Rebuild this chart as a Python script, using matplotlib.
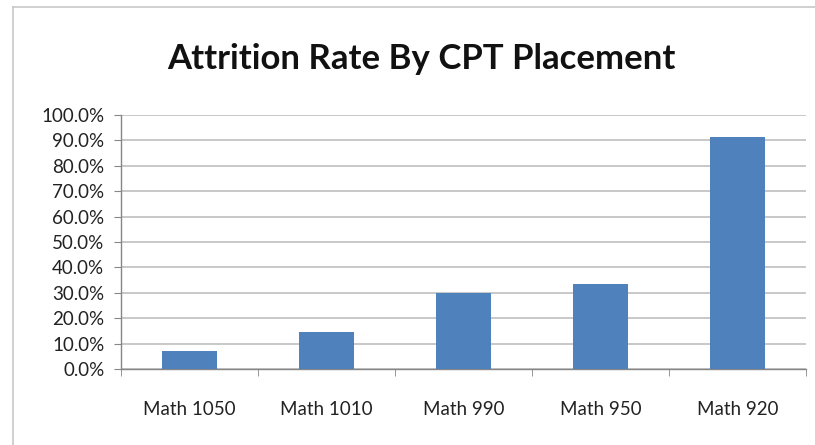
import matplotlib
matplotlib.use('Agg')
import matplotlib.pyplot as plt
from matplotlib.lines import Line2D
from matplotlib.ticker import FuncFormatter, MultipleLocator

# Data
courses = ['Math 1050', 'Math 1010', 'Math 990', 'Math 950', 'Math 920']
attrition = [6.9, 14.4, 30.0, 33.4, 91.5]

plt.rcParams['font.family'] = ['Lato', 'DejaVu Sans']

W, H = 815, 445
fig = plt.figure(figsize=(W / 100, H / 100), dpi=100)

# chart area border, only left and top edges are visible in the screenshot
bx, by = 13 / W, 1 - 7 / H
fig.lines.append(Line2D([bx, bx], [0, by], transform=fig.transFigure, color='#c8c8c8', lw=1.2))
fig.lines.append(Line2D([bx, 1], [by, by], transform=fig.transFigure, color='#c8c8c8', lw=1.2))

left, right, top, bottom = 121, 806, 115, 369
ax = fig.add_axes([left / W, 1 - bottom / H, (right - left) / W, (bottom - top) / H])

x = range(len(courses))
ax.bar(x, attrition, width=0.4, color='#4f81bd', zorder=3)

ax.set_xlim(-0.5, len(courses) - 0.5)
ax.set_ylim(0, 100)
ax.yaxis.set_major_locator(MultipleLocator(10))
ax.yaxis.set_major_formatter(FuncFormatter(lambda v, p: f'{v:.1f}%'))
ax.set_xticks(list(x))
ax.set_xticklabels(courses)
ax.set_xticks([i - 0.5 for i in range(len(courses) + 1)], minor=True)

ax.grid(axis='y', color='#bfbfbf', linewidth=1.2, zorder=0)
for s in ['top', 'right']:
    ax.spines[s].set_visible(False)
for s in ['left', 'bottom']:
    ax.spines[s].set_color('#868686')
    ax.spines[s].set_linewidth(1.0)

ax.tick_params(axis='y', length=5, color='#868686', labelsize=13.5, pad=7, labelcolor='#222222')
ax.tick_params(axis='x', which='major', length=0, labelsize=13.5, pad=23, labelcolor='#222222')
ax.tick_params(axis='x', which='minor', length=5, color='#868686')

fig.text(421 / W, 1 - 59 / H, 'Attrition Rate By CPT Placement', ha='center', va='center',
         fontsize=25, fontweight='bold', color='#111111')

fig.savefig('out.png', dpi=100)
